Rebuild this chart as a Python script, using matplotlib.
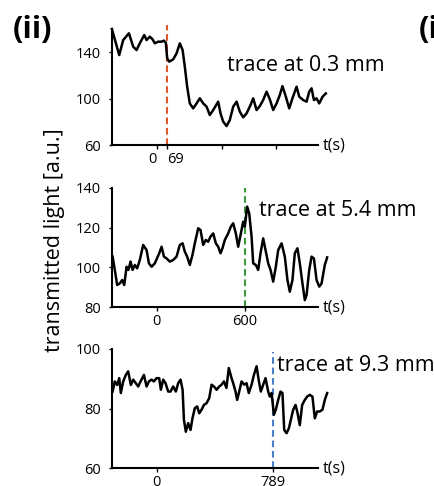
import matplotlib
matplotlib.use("Agg")
import matplotlib.pyplot as plt

plt.rcParams['font.family'] = ['Open Sans', 'DejaVu Sans']

# trace 1 (0.3 mm), time [s] and transmitted light [a.u.]
t1 = [-306, -256, -229, -190, -161, -138, -116, -86, -70, -48, -29, -14, 9, 32, 48, 61,
      70, 84, 111, 134, 156, 175, 190, 206, 224, 247, 270, 292, 315, 338, 360, 383,
      417, 433, 451, 474, 496, 519, 542, 564, 587, 610, 637, 655, 678, 700, 723, 746,
      768, 791, 814, 836, 854, 877, 900, 922, 950, 968, 995, 1018, 1036, 1052, 1068,
      1086, 1104, 1127, 1149]
v1 = [159.8, 137.4, 150.3, 156.1, 144.6, 141.7, 147.5, 154.6, 150.3, 153.2, 150.9, 147.5,
      148.9, 148.9, 149.8, 148.0, 134.6, 131.7, 133.7, 138.8, 147.5, 141.7, 127.4, 110.2,
      95.8, 91.5, 95.8, 100.2, 95.8, 93.0, 85.8, 90.1, 97.3, 87.2, 80.1, 76.3, 81.5, 93.0,
      97.3, 88.7, 83.8, 87.2, 94.4, 100.2, 90.1, 93.5, 98.7, 105.9, 99.3, 90.1, 95.8,
      103.0, 110.7, 101.6, 91.5, 100.2, 110.2, 101.6, 98.7, 97.3, 105.9, 108.8, 98.7,
      100.2, 95.8, 101.6, 104.4]

# trace 2 (5.4 mm)
t2 = [-301, -286, -270, -252, -236, -222, -206, -193, -179, -165, -150, -134, -116, -93,
      -70, -54, -36, -14, 16, 32, 48, 66, 88, 111, 134, 156, 175, 190, 206, 224, 242,
      258, 281, 297, 315, 333, 349, 365, 383, 401, 417, 433, 446, 462, 485, 503, 519,
      537, 553, 569, 587, 598, 614, 628, 644, 655, 673, 689, 705, 723, 739, 757, 773,
      791, 809, 825, 848, 870, 888, 904, 922, 938, 956, 972, 990, 1006, 1018, 1036,
      1052, 1068, 1086, 1104, 1120, 1142, 1158]
v2 = [105.4, 98.7, 91.1, 91.9, 93.6, 91.1, 100.3, 98.7, 102.9, 98.7, 101.2, 99.5, 103.7,
      111.3, 108.7, 102.0, 100.3, 102.0, 107.1, 110.4, 105.4, 104.5, 102.9, 103.7, 105.4,
      111.3, 112.1, 107.9, 105.4, 101.2, 106.2, 112.1, 119.7, 118.8, 111.3, 113.8, 112.9,
      115.5, 117.1, 112.1, 110.4, 107.1, 109.6, 113.8, 117.1, 120.5, 122.2, 117.1, 110.4,
      116.3, 123.0, 120.5, 130.6, 127.2, 115.5, 102.0, 101.2, 98.7, 107.1, 114.6, 108.7,
      102.0, 98.7, 92.8, 100.3, 108.7, 112.1, 105.4, 93.6, 87.7, 93.6, 107.1, 109.6,
      102.0, 91.9, 83.5, 86.0, 98.7, 105.4, 104.5, 93.6, 90.3, 91.9, 101.2, 105.0]

# trace 3 (9.3 mm)
t3 = [-301, -286, -270, -256, -245, -229, -211, -195, -177, -161, -143, -127, -111, -88,
      -70, -54, -36, -20, -2, 16, 27, 43, 59, 77, 93, 111, 129, 145, 161, 175, 184, 197,
      213, 229, 242, 258, 274, 288, 304, 320, 338, 356, 372, 388, 406, 424, 440, 456,
      473, 489, 508, 519, 535, 546, 560, 576, 594, 610, 625, 644, 660, 678, 694, 707,
      723, 739, 757, 768, 780, 796, 809, 825, 841, 854, 866, 882, 898, 911, 927, 943,
      957, 972, 988, 1006, 1022, 1040, 1058, 1074, 1090, 1108, 1126, 1142, 1158]
v3 = [85.7, 89.1, 87.9, 90.2, 85.2, 89.1, 91.3, 92.5, 87.9, 89.7, 88.5, 87.4, 89.1, 91.3,
      87.4, 89.1, 89.7, 89.1, 90.2, 90.2, 86.3, 89.7, 88.5, 85.7, 85.7, 87.4, 85.7, 88.5,
      89.7, 86.3, 76.2, 72.2, 75.1, 72.8, 76.7, 80.1, 80.7, 78.4, 79.6, 81.2, 81.8, 83.5,
      88.0, 87.4, 86.3, 87.4, 88.0, 89.1, 86.9, 93.6, 90.2, 88.5, 85.7, 82.9, 85.7, 89.1,
      88.0, 88.5, 85.2, 88.0, 91.3, 94.2, 89.1, 85.7, 88.0, 90.2, 85.7, 84.0, 85.2, 77.9,
      79.6, 82.9, 85.7, 85.2, 72.8, 71.7, 73.4, 76.2, 79.6, 81.2, 78.4, 74.4, 81.2, 82.9,
      84.0, 84.6, 84.0, 76.7, 79.0, 79.0, 79.6, 82.9, 85.2]

traces = [(t1, v1), (t2, v2), (t3, v3)]
stim_t = [69, 600, 789]
stim_col = ['#e0572b', '#3f9a3a', '#4a80c8']
ylims = [(60, 160), (80, 140), (60, 100)]
yticks = [[60, 100, 140], [80, 100, 120, 140], [60, 80, 100]]
labels = ['trace at 0.3 mm', 'trace at 5.4 mm', 'trace at 9.3 mm']
label_pos = [(476, 128.8), (694, 128.9), (816, 94.6)]
vtop = [163, 140, 99]

x0, x1 = -305, 1160
xend = 1095

fig = plt.figure(figsize=(4.34, 4.86), dpi=100)
boxes = [[0.2581, 0.7016, 0.4964, 0.2392],
         [0.2581, 0.3683, 0.4964, 0.2449],
         [0.2581, 0.0370, 0.4964, 0.2449]]

for i in range(3):
    ax = fig.add_axes(boxes[i])
    t, v = traces[i]
    ax.plot(t, v, color='black', lw=1.8, clip_on=False, solid_joinstyle='round', zorder=3)
    ax.plot([stim_t[i], stim_t[i]], [ylims[i][0], vtop[i]], color=stim_col[i], lw=1.5,
            dashes=(3.2, 1.8), clip_on=False, zorder=2)
    ax.set_xlim(x0, x1)
    ax.set_ylim(*ylims[i])
    for s in ['top', 'right']:
        ax.spines[s].set_visible(False)
    ax.spines['left'].set_linewidth(1.5)
    ax.spines['bottom'].set_linewidth(1.5)
    ax.spines['bottom'].set_bounds(x0, xend)
    ax.set_yticks(yticks[i])
    ax.tick_params(axis='y', length=2, width=1, pad=6, labelsize=10.5)
    ax.tick_params(axis='x', length=3, width=1, pad=2, labelsize=10.5)
    ax.set_xticks([0, stim_t[i]], ['0', str(stim_t[i])])
    ax.text(1125, ylims[i][0], 't(s)', fontsize=11.5, ha='left', va='center', clip_on=False)
    ax.text(label_pos[i][0], label_pos[i][1], labels[i], fontsize=15.5, ha='left',
            va='center', clip_on=False)
    if i == 0:
        ax.set_xticks([442, 809], minor=True)
        ax.tick_params(axis='x', which='minor', length=3, width=1)
        xl = ax.get_xticklabels()
        xl[0].set_ha('right')
        xl[1].set_ha('left')

fig.text(0.074, 0.938, '(ii)', fontsize=22, fontweight='bold', ha='center', va='center')
fig.text(0.966, 0.938, '(ii)', fontsize=22, fontweight='bold', ha='left', va='center')
fig.text(0.125, 0.505, 'transmitted light [a.u.]', fontsize=15.5, rotation=90,
         ha='center', va='center')

fig.savefig('out.png', dpi=100)
